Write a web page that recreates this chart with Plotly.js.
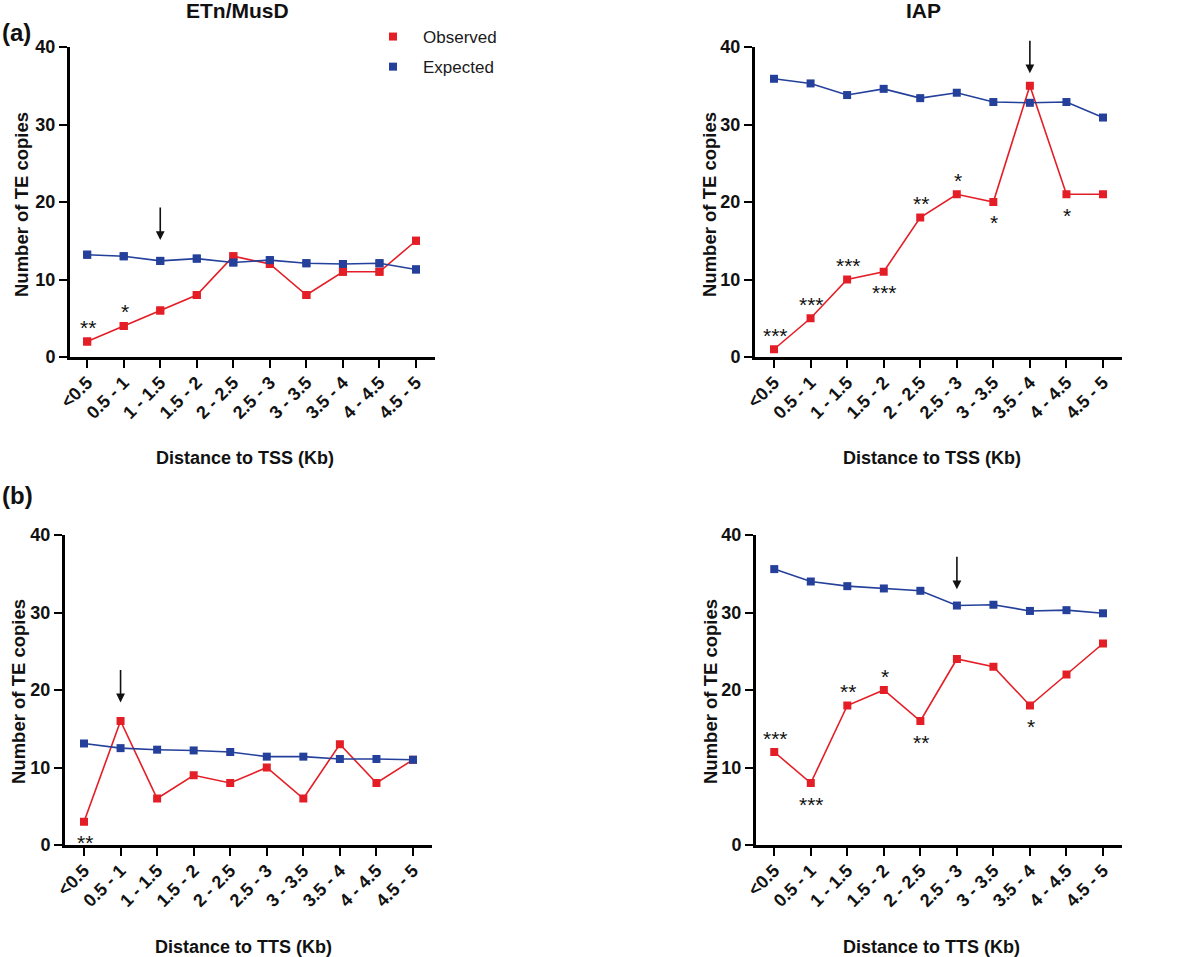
<!DOCTYPE html>
<html><head><meta charset="utf-8">
<script src="https://cdn.plot.ly/plotly-3.0.1.min.js"></script>
<style>html,body{margin:0;padding:0;background:#fff}#chart{width:1200px;height:957px}</style>
</head><body><div id="chart"></div>
<script>
const categories = ['<0.5','0.5 - 1','1 - 1.5','1.5 - 2','2 - 2.5','2.5 - 3','3 - 3.5','3.5 - 4','4 - 4.5','4.5 - 5'];
const yTickValues = [0,10,20,30,40];

const tssEtnObserved = [2,4,6,8,13,12,8,11,11,15];
const tssEtnExpected = [13.2,13.0,12.4,12.7,12.2,12.5,12.1,12.0,12.1,11.3];
const tssIapObserved = [1,5,10,11,18,21,20,35,21,21];
const tssIapExpected = [35.9,35.3,33.8,34.6,33.4,34.1,32.9,32.8,32.9,30.9];
const ttsEtnObserved = [3,16,6,9,8,10,6,13,8,11];
const ttsEtnExpected = [13.1,12.5,12.3,12.2,12.0,11.4,11.4,11.1,11.1,11.0];
const ttsIapObserved = [12,8,18,20,16,24,23,18,22,26];
const ttsIapExpected = [35.6,34.0,33.4,33.1,32.8,30.9,31.0,30.2,30.3,29.9];

const tssEtnStars = ['**','*','','','','','','','',''];
const tssEtnSide  = ['above','above','','','','','','','',''];
const tssIapStars = ['***','***','***','***','**','*','*','','*',''];
const tssIapSide  = ['above','above','above','below','above','above','below','','below',''];
const ttsEtnStars = ['**','','','','','','','','',''];
const ttsEtnSide  = ['below','','','','','','','','',''];
const ttsIapStars = ['***','***','**','*','**','','','*','',''];
const ttsIapSide  = ['above','below','above','above','below','','','below','',''];

const tssEtnArrow = {cat:'1 - 1.5', y:15.1};
const tssIapArrow = {cat:'3.5 - 4', y:36.6};
const ttsEtnArrow = {cat:'0.5 - 1', y:18.4};
const ttsIapArrow = {cat:'2.5 - 3', y:33.0};

const RED = '#e41e26', BLUE = '#24409a';
const FONT = 'Liberation Sans, Arial, Helvetica, sans-serif';
const W = 1200, H = 957;
const px = v => v / W;
const py = v => 1 - v / H;

const panels = [
  {n:'', obs:tssEtnObserved, exp:tssEtnExpected, stars:tssEtnStars, side:tssEtnSide, arrow:tssEtnArrow,
   xd:[70,435], xr:[-0.47,9.52], yd:[357,47], legend:true},
  {n:'2', obs:tssIapObserved, exp:tssIapExpected, stars:tssIapStars, side:tssIapSide, arrow:tssIapArrow,
   xd:[755,1122], xr:[-0.52,9.52], yd:[357,47]},
  {n:'3', obs:ttsEtnObserved, exp:ttsEtnExpected, stars:ttsEtnStars, side:ttsEtnSide, arrow:ttsEtnArrow,
   xd:[65,432], xr:[-0.52,9.52], yd:[845,535]},
  {n:'4', obs:ttsIapObserved, exp:ttsIapExpected, stars:ttsIapStars, side:ttsIapSide, arrow:ttsIapArrow,
   xd:[756,1122], xr:[-0.50,9.52], yd:[845,535]}
];

const traces = [];
const legendTraces = [];
const layout = {
  width: W, height: H,
  margin: {l:0, r:0, t:0, b:0},
  paper_bgcolor: '#fff', plot_bgcolor: '#fff',
  font: {family: FONT, color: '#000'},
  showlegend: true,
  hovermode: false,
  legend: {x: px(363), y: py(19), xanchor: 'left', yanchor: 'top', itemwidth: 50,
           font: {family: FONT, size: 17, color: '#1a1a1a'}, tracegroupgap: 5,
           traceorder: 'grouped', bgcolor: 'rgba(0,0,0,0)'},
  annotations: []
};

panels.forEach(p => {
  const xa = 'x' + p.n, ya = 'y' + p.n;
  traces.push({x: categories, y: p.obs, xaxis: xa, yaxis: ya, type: 'scatter', mode: 'lines+markers',
    line: {color: RED, width: 1.6}, marker: {color: RED, size: 8, symbol: 'square'},
    showlegend: false, cliponaxis: false});
  traces.push({x: categories, y: p.exp, xaxis: xa, yaxis: ya, type: 'scatter', mode: 'lines+markers',
    line: {color: BLUE, width: 1.6}, marker: {color: BLUE, size: 8, symbol: 'square'},
    showlegend: false, cliponaxis: false});
  if (p.legend) {
    legendTraces.push({x: categories, y: p.obs, xaxis: xa, yaxis: ya, type: 'scatter', mode: 'markers',
      name: 'Observed', legendgroup: 'obs', marker: {color: RED, size: 8, symbol: 'square'}, cliponaxis: false});
    legendTraces.push({x: categories, y: p.exp, xaxis: xa, yaxis: ya, type: 'scatter', mode: 'markers',
      name: 'Expected', legendgroup: 'exp', marker: {color: BLUE, size: 8, symbol: 'square'}, cliponaxis: false});
  }
  const axisCommon = {showline: true, linewidth: 3, linecolor: '#000', ticks: 'outside', ticklen: 8,
    tickwidth: 2, tickcolor: '#000', showgrid: false, zeroline: false, fixedrange: true,
    tickfont: {family: FONT, size: 18, weight: 'bold', color: '#111'}};
  layout['xaxis' + p.n] = Object.assign({}, axisCommon, {
    domain: [px(p.xd[0]), px(p.xd[1])], anchor: ya, type: 'category',
    categoryorder: 'array', categoryarray: categories, range: p.xr, tickangle: -45,
    ticklabelstandoff: -3});
  layout['yaxis' + p.n] = Object.assign({}, axisCommon, {
    domain: [py(p.yd[0]), py(p.yd[1])], anchor: xa, range: [0, 40], tickvals: yTickValues});
  p.stars.forEach((s, i) => {
    if (!s) return;
    const above = p.side[i] === 'above';
    layout.annotations.push({xref: xa, yref: ya, x: categories[i], y: p.obs[i], text: s, showarrow: false,
      xanchor: 'center', yanchor: 'middle', xshift: 1, yshift: above ? 14 : -21,
      font: {family: FONT, size: 21, color: '#111'}});
  });
  layout.annotations.push({xref: xa, yref: ya, x: p.arrow.cat, y: p.arrow.y, text: '', showarrow: true,
    ax: 0, ay: -34, arrowhead: 2, arrowsize: 1.1, arrowwidth: 1.6, arrowcolor: '#111'});
});

function label(text, x, y, size, opts) {
  layout.annotations.push(Object.assign({xref: 'paper', yref: 'paper', x: px(x), y: py(y), text: text,
    showarrow: false, xanchor: 'center', yanchor: 'middle',
    font: {family: FONT, size: size, weight: 'bold', color: '#111'}}, opts || {}));
}
label('ETn/MusD', 237, 11, 21);
label('IAP', 923, 11, 21);
label('(a)', 0, 33, 24, {xanchor: 'left'});
label('(b)', 0, 495, 24, {xanchor: 'left'});
label('Number of TE copies', 22, 205, 18.5, {textangle: -90});
label('Number of TE copies', 710, 205, 18.5, {textangle: -90});
label('Number of TE copies', 18, 692, 18.5, {textangle: -90});
label('Number of TE copies', 710, 692, 18.5, {textangle: -90});
label('Distance to TSS (Kb)', 245, 458, 18);
label('Distance to TSS (Kb)', 932, 458, 18);
label('Distance to TTS (Kb)', 243, 947, 18);
label('Distance to TTS (Kb)', 931, 947, 18);

Plotly.newPlot('chart', traces.concat(legendTraces), layout, {staticPlot: true, displayModeBar: false});
</script></body></html>
